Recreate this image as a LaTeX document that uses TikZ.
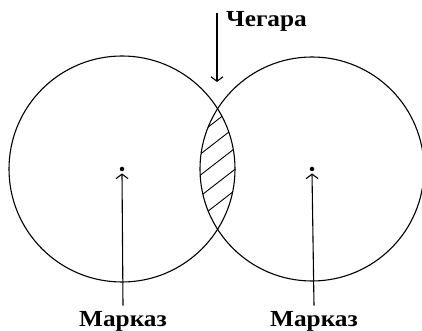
\documentclass[tikz,border=0pt]{standalone}
\usepackage{fontspec}
\setmainfont{Liberation Serif}
\newfontfamily\markfont[FakeStretch=1.1]{Liberation Serif Bold}
\usetikzlibrary{arrows.meta, positioning, calc}

\begin{document}
\begin{tikzpicture}[
    x=1pt, y=1pt,
    ring/.style={draw, line width=1.1pt},
    centre/.style={circle, fill, inner sep=0pt, minimum size=4.5pt},
    label/.style={font=\fontsize{23}{26}\markfont, inner sep=2pt},
    hatch/.style={line width=0.9pt},
    pointer/.style={-{Straight Barb[length=4.5pt,width=12pt]}, line width=1.1pt},
]
\useasboundingbox (0,0) rectangle (422,331);

% Circles
\coordinate (cL) at (122,162);
\coordinate (cR) at (312,162);
\draw[ring] (cL) circle (113);
\draw[ring] (cR) circle (112);

% Hatched lens
\begin{scope}
    \clip (cL) circle (113);
    \clip (cR) circle (112);
    \foreach \k in {0,...,4} {
        \draw[hatch] (176,{126+21*\k-31}) -- (256,{126+21*\k+31});
    }
\end{scope}

% Nodes
\node[centre] (dotL) at (cL) {};
\node[centre] (dotR) at (cR) {};

\node[label, anchor=base] (markL) at (123,4) {Марказ};
\node[label, anchor=base] (markR) at (314,4) {Марказ};

\node[label, anchor=base west] (border) at (224,304) {Чегара};
\coordinate (borderTop) at (217,318);
\coordinate (borderTip) at (217,249);

% Pointers
\draw[pointer] (markL.north) ++(0,4) coordinate (markLtop) -- ($(dotL.south)+(0,-2)$);
\draw[pointer] (markR.north) ++(0,4) coordinate (markRtop) -- ($(dotR.south)+(0,-2)$);
\draw[pointer] (borderTop) -- (borderTip);

\end{tikzpicture}
\end{document}
